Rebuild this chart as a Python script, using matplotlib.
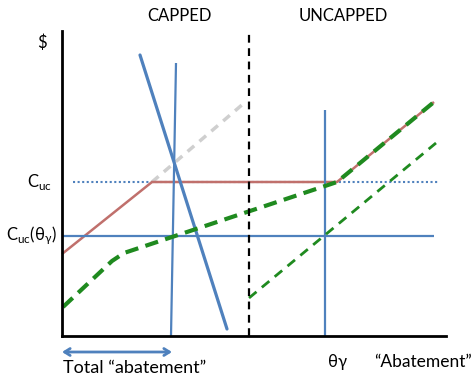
import matplotlib
matplotlib.use("Agg")
import matplotlib.pyplot as plt

plt.rcParams['font.family'] = ['Lato', 'DejaVu Sans']

# Diagram data (abatement units on x, $ on y)
red_x = [0, 90, 275, 372]
red_y = [82, 154, 154, 234]
gray_x = [90, 181]
gray_y = [154, 232]
green_cap_x = [1, 50, 62, 275, 372]
green_cap_y = [29, 75, 83, 154, 234]
green_unc_x = [187, 374]
green_unc_y = [38, 193]
mc_steep_x = [78, 165]
mc_steep_y = [281, 7]
mc_vert_x = [114, 109]
mc_vert_y = [273, 0]
theta_x = 263
theta_top = 226
cuc_theta = 100
cuc = 154
divider_x = 187
xmax, ymax = 384, 305

BLUE = '#4f81bd'
RED = '#c0706c'
GREEN = '#1f8a1f'

fig = plt.figure(figsize=(4.72, 3.77), dpi=100)
ax = fig.add_axes([62/472, 41/377, 384/472, 305/377])
ax.set_xlim(0, xmax)
ax.set_ylim(0, ymax)
for s in ['top', 'right']:
    ax.spines[s].set_visible(False)
for s in ['left', 'bottom']:
    ax.spines[s].set_linewidth(2)
    ax.spines[s].set_color('black')
ax.set_xticks([])
ax.set_yticks([])

kw = dict(clip_on=False, solid_capstyle='butt')
ax.plot([11, 376], [cuc, cuc], color=BLUE, lw=1.5, ls=(0, (1, 1.2)), clip_on=False)
ax.plot(gray_x, gray_y, color='#cfcfcf', lw=2.5, ls=(0, (2.5, 2)), clip_on=False)
ax.plot(red_x, red_y, color=RED, lw=1.8, **kw)
ax.plot([0, 372], [cuc_theta, cuc_theta], color=BLUE, lw=1.6, **kw)
ax.plot([theta_x, theta_x], [0, theta_top], color=BLUE, lw=1.6, **kw)
ax.plot(mc_vert_x, mc_vert_y, color=BLUE, lw=1.6, **kw)
ax.plot(mc_steep_x, mc_steep_y, color=BLUE, lw=2.3, solid_capstyle='round', clip_on=False)
ax.plot(green_cap_x, green_cap_y, color=GREEN, lw=3, ls=(0, (3.2, 1.8)), clip_on=False)
ax.plot(green_unc_x, green_unc_y, color=GREEN, lw=2, ls=(0, (3.5, 2.5)), clip_on=False)
ax.plot([divider_x, divider_x], [0, ymax], color='black', lw=1.6, ls=(0, (3.5, 2.5)), clip_on=False)

ax.annotate('', xy=(0, -16), xytext=(110, -16), annotation_clip=False,
            arrowprops=dict(arrowstyle='<->, head_length=0.4, head_width=0.25', color=BLUE, lw=2,
                            shrinkA=0, shrinkB=0))

fs = 12
ax.text(-20, 293, '$', fontsize=fs, ha='center', va='center')
ax.text(117, 320, 'CAPPED', fontsize=fs, ha='center', va='center')
ax.text(281, 320, 'UNCAPPED', fontsize=fs, ha='center', va='center')
ax.text(-10, cuc, r'C$_{\mathregular{uc}}$', fontsize=fs, ha='right', va='center')
ax.text(-5, cuc_theta, r'C$_{\mathregular{uc}}$($\mathregular{\theta_{\gamma}}$)', fontsize=fs, ha='right', va='center')
ax.text(1, -32, 'Total \u201cabatement\u201d', fontsize=13, ha='left', va='center')
ax.text(theta_x + 13, -26, '\u03b8\u03b3', fontsize=fs, ha='center', va='center')
ax.text(361, -26, '\u201cAbatement\u201d', fontsize=12.5, ha='center', va='center')

fig.savefig('out.png', dpi=100)
